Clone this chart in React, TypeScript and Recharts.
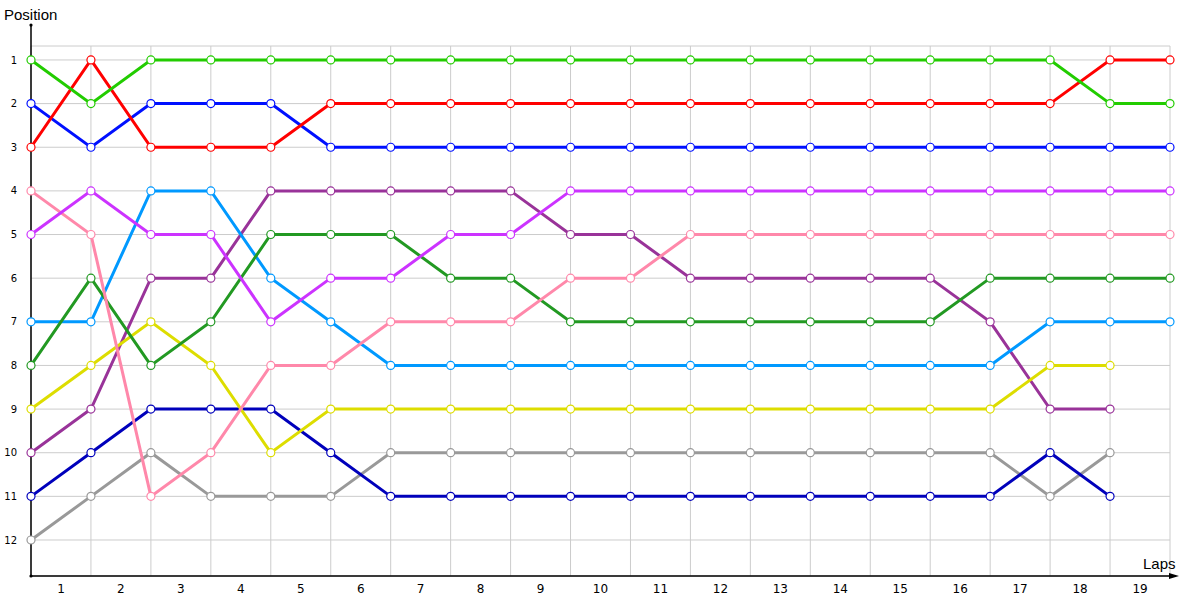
import {
  LineChart,
  Line,
  XAxis,
  YAxis,
  CartesianGrid,
  ReferenceLine,
  ReferenceDot,
} from "recharts";

// lap labels sit between the gridlines, positions 1..12 on both sides
const lapLabels = ["1", "2", "3", "4", "5", "6", "7", "8", "9", "10", "11", "12", "13", "14", "15", "16", "17", "18", "19"];
const lapMarks = [0.5, 1.5, 2.5, 3.5, 4.5, 5.5, 6.5, 7.5, 8.5, 9.5, 10.5, 11.5, 12.5, 13.5, 14.5, 15.5, 16.5, 17.5, 18.5];
const gridMarks = [0, 1, 2, 3, 4, 5, 6, 7, 8, 9, 10, 11, 12, 13, 14, 15, 16, 17, 18, 19];
const positionTicks = [1, 2, 3, 4, 5, 6, 7, 8, 9, 10, 11, 12];

const green = [1, 2, 1, 1, 1, 1, 1, 1, 1, 1, 1, 1, 1, 1, 1, 1, 1, 1, 2, 2];
const red = [3, 1, 3, 3, 3, 2, 2, 2, 2, 2, 2, 2, 2, 2, 2, 2, 2, 2, 1, 1];
const blue = [2, 3, 2, 2, 2, 3, 3, 3, 3, 3, 3, 3, 3, 3, 3, 3, 3, 3, 3, 3];
const violet = [5, 4, 5, 5, 7, 6, 6, 5, 5, 4, 4, 4, 4, 4, 4, 4, 4, 4, 4, 4];
const pink = [4, 5, 11, 10, 8, 8, 7, 7, 7, 6, 6, 5, 5, 5, 5, 5, 5, 5, 5, 5];
const darkGreen = [8, 6, 8, 7, 5, 5, 5, 6, 6, 7, 7, 7, 7, 7, 7, 7, 6, 6, 6, 6];
const lightBlue = [7, 7, 4, 4, 6, 7, 8, 8, 8, 8, 8, 8, 8, 8, 8, 8, 8, 7, 7, 7];
const yellow = [9, 8, 7, 8, 10, 9, 9, 9, 9, 9, 9, 9, 9, 9, 9, 9, 9, 8, 8];
const purple = [10, 9, 6, 6, 4, 4, 4, 4, 4, 5, 5, 6, 6, 6, 6, 6, 7, 9, 9];
const navy = [11, 10, 9, 9, 9, 10, 11, 11, 11, 11, 11, 11, 11, 11, 11, 11, 11, 10, 11];
const gray = [12, 11, 10, 11, 11, 11, 10, 10, 10, 10, 10, 10, 10, 10, 10, 10, 10, 11, 10];

const series = [
  { key: "gray", values: gray, color: "#999999" },
  { key: "navy", values: navy, color: "#0000bb" },
  { key: "purple", values: purple, color: "#993399" },
  { key: "yellow", values: yellow, color: "#dddd00" },
  { key: "lightBlue", values: lightBlue, color: "#0099ff" },
  { key: "darkGreen", values: darkGreen, color: "#229922" },
  { key: "pink", values: pink, color: "#ff88aa" },
  { key: "violet", values: violet, color: "#cc33ff" },
  { key: "blue", values: blue, color: "#0010ff" },
  { key: "red", values: red, color: "#ff0000" },
  { key: "green", values: green, color: "#22cc00" },
];

const data = gridMarks.map((x, i) => {
  const row: Record<string, number | undefined> = { x };
  series.forEach((s) => {
    row[s.key] = s.values[i];
  });
  return row;
});

const yTop = 0.2;
const yMin = 0.68;
const yMax = 12.825;
const font = "Tahoma, 'DejaVu Sans', sans-serif";

function TopDot(props: any) {
  const { cx, cy } = props;
  return (
    <g>
      <circle cx={cx} cy={cy} r={1.6} fill="#000" />
      <text x={cx - 27} y={cy - 5} fontSize={15} fontFamily="'Liberation Sans', Arial, sans-serif" fill="#000">
        Position
      </text>
    </g>
  );
}

function ArrowEnd(props: any) {
  const { cx, cy } = props;
  return (
    <g>
      <line x1={cx} y1={cy} x2={cx + 6} y2={cy} stroke="#000" strokeWidth={1} />
      <polygon points={`${cx + 9},${cy} ${cx - 1},${cy - 3} ${cx - 1},${cy + 3}`} fill="#000" />
      <text x={cx - 27} y={cy - 7} fontSize={15} fontFamily="'Liberation Sans', Arial, sans-serif" fill="#000">
        Laps
      </text>
    </g>
  );
}

export default function App() {
  return (
    <div style={{ position: "absolute", left: 0, top: 0, background: "#fff" }}>
      <LineChart width={1200} height={600} data={data} margin={{ top: 46, right: 0, bottom: 0, left: 0 }}>
        <XAxis xAxisId="grid" dataKey="x" type="number" domain={[0, 19]} ticks={gridMarks} hide />
        <XAxis
          dataKey="x"
          type="number"
          domain={[0, 19]}
          ticks={lapMarks}
          tickFormatter={(v: number) => lapLabels[Math.floor(v)]}
          tickLine={false}
          axisLine={{ stroke: "#000", strokeWidth: 1.5 }}
          height={24}
          tick={{ fontSize: 12, fill: "#000", fontFamily: font }}
        />
        <YAxis
          type="number"
          domain={[yMin, yMax]}
          reversed
          ticks={positionTicks}
          width={31}
          axisLine={false}
          tickLine={false}
          tick={{ fontSize: 10, fill: "#000", fontFamily: font, dx: -6 }}
        />
        <YAxis
          yAxisId="right"
          orientation="right"
          type="number"
          domain={[yMin, yMax]}
          reversed
          ticks={positionTicks}
          width={30}
          axisLine={false}
          tickLine={false}
          tick={{ fontSize: 10, fill: "#000", fontFamily: font, dx: -1 }}
        />
        <CartesianGrid xAxisId="grid" stroke="#cccccc" strokeWidth={1} />
        <ReferenceLine
          segment={[
            { x: 0, y: yTop },
            { x: 0, y: yMax },
          ]}
          stroke="#000"
          strokeWidth={1.5}
          ifOverflow="visible"
        />
        <ReferenceDot x={0} y={yTop} ifOverflow="visible" shape={TopDot} />
        <ReferenceDot x={0} y={yMax} r={1.6} fill="#000" stroke="none" ifOverflow="visible" />
        <ReferenceDot x={19} y={yMax} ifOverflow="visible" shape={ArrowEnd} />
        {series.map((s) => (
          <Line
            key={s.key}
            dataKey={s.key}
            stroke={s.color}
            strokeWidth={3}
            type="linear"
            dot={{ r: 4, fill: "#fff", stroke: s.color, strokeWidth: 1.2 }}
            activeDot={false}
            isAnimationActive={false}
          />
        ))}
      </LineChart>
    </div>
  );
}
